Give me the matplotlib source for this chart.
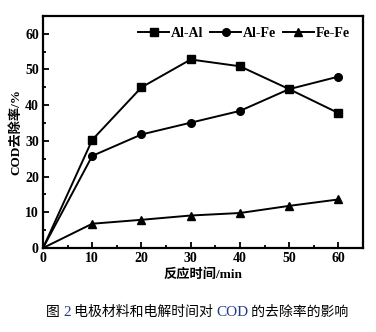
import matplotlib
matplotlib.use('Agg')
import matplotlib.pyplot as plt
from matplotlib.ticker import MultipleLocator
from matplotlib.offsetbox import TextArea, HPacker, AnchoredOffsetbox

# 电解时间 (min) 与 COD 去除率 (%)
waktu = [0, 10, 20, 30, 40, 50, 60]
al_al = [0, 30.3, 45.0, 52.8, 50.9, 44.5, 37.8]
al_fe = [0, 25.8, 31.8, 35.1, 38.4, 44.5, 48.0]
fe_fe = [0, 6.8, 7.9, 9.1, 9.8, 11.8, 13.6]

seri = [('Al-Al', al_al, 's'), ('Al-Fe', al_fe, 'o'), ('Fe-Fe', fe_fe, '^')]

huruf = ['Liberation Serif', 'Noto Sans CJK SC', 'DejaVu Sans']
plt.rcParams['font.family'] = huruf

fig = plt.figure(figsize=(3.76, 3.32), dpi=100)
ax = fig.add_axes([0.1144, 0.253, 0.851, 0.699])

for nama, nilai, mk in seri:
    ax.plot(waktu, nilai, color='black', lw=1.4, marker=mk, ms=5.5,
            markevery=range(1, len(waktu)), label=nama, clip_on=False)

ax.set_xlim(0, 65)
ax.set_ylim(0, 65)
ax.xaxis.set_major_locator(MultipleLocator(10))
ax.xaxis.set_minor_locator(MultipleLocator(5))
ax.yaxis.set_major_locator(MultipleLocator(10))
ax.yaxis.set_minor_locator(MultipleLocator(5))
ax.tick_params(which='both', direction='in', width=1.3, labelsize=10, pad=3)
ax.tick_params(which='major', length=4)
ax.tick_params(which='minor', length=2.5)
for lbl in ax.get_xticklabels() + ax.get_yticklabels():
    lbl.set_fontweight('bold')
for sp in ax.spines.values():
    sp.set_linewidth(1.6)

ax.set_xlabel('反应时间/min', fontsize=9.5, fontweight='bold', labelpad=2)
ax.set_ylabel('COD去除率/%', fontsize=9.5, fontweight='bold', labelpad=2)

leg = ax.legend(loc='upper right', ncol=3, frameon=False, fontsize=10,
                handlelength=2.2, handletextpad=0.15, columnspacing=0.5,
                bbox_to_anchor=(0.985, 0.99), borderaxespad=0.2)
for t in leg.get_texts():
    t.set_fontweight('bold')

# 图注: 数字和 COD 用蓝色
biru = '#1f3a8a'
cjk = dict(size=10, color='black', family=['Noto Sans CJK SC', 'DejaVu Sans'])
lat = dict(size=11, color=biru, family=['Liberation Serif', 'DejaVu Sans'])
potong = [TextArea('图 ', textprops=cjk),
          TextArea('2', textprops=lat),
          TextArea(' 电极材料和电解时间对 ', textprops=cjk),
          TextArea('COD', textprops=lat),
          TextArea(' 的去除率的影响', textprops=cjk)]
baris = HPacker(children=potong, align='baseline', pad=0, sep=0)
kotak = AnchoredOffsetbox(loc='center', child=baris, frameon=False,
                          bbox_to_anchor=(0.525, 0.06),
                          bbox_transform=fig.transFigure, borderpad=0)
fig.add_artist(kotak)

fig.savefig('out.png', dpi=100)
